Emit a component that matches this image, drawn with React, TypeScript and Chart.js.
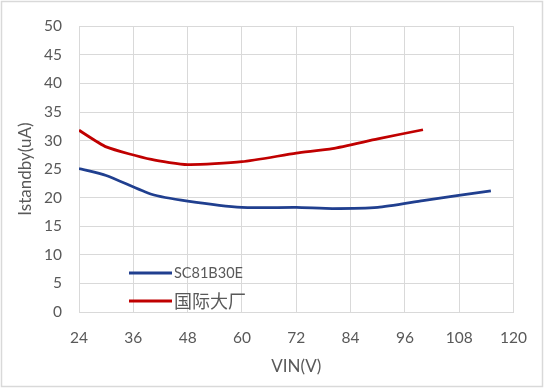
import React, { useEffect, useRef } from "react";
import { Chart, registerables } from "chart.js";

Chart.register(...registerables);

const vinSC81B30E = [24, 30, 40, 48, 60, 72, 80, 90, 100, 115];
const istandbySC81B30E = [25.1, 23.9, 20.6, 19.4, 18.3, 18.3, 18.1, 18.3, 19.5, 21.2];
const vinIntl = [24, 30, 40, 48, 60, 72, 80, 90, 100];
const istandbyIntl = [31.8, 28.9, 26.7, 25.8, 26.3, 27.8, 28.6, 30.3, 31.9];
const seriesNames = ["SC81B30E", "国际大厂"];
const xTitle = "VIN(V)";
const yTitle = "Istandby(uA)";

const FONT = 'Lato, "Noto Sans CJK SC", sans-serif';
const TEXT = "#595959";
const GRID = "#d9d9d9";

const framePlugin = {
  id: "frame",
  beforeDraw(chart: any) {
    const { ctx, width, height } = chart;
    ctx.save();
    ctx.fillStyle = "#ffffff";
    ctx.fillRect(0, 0, width, height);
    ctx.strokeStyle = GRID;
    ctx.lineWidth = 1.5;
    ctx.strokeRect(1.5, 1.5, width - 3, height - 3);
    ctx.restore();
  },
};

const innerLegend = {
  id: "innerLegend",
  afterDatasetsDraw(chart: any) {
    const { ctx, chartArea } = chart;
    const x0 = chartArea.left + 50;
    const y0 = chartArea.bottom - 39;
    ctx.save();
    chart.data.datasets.forEach((ds: any, i: number) => {
      const y = y0 + i * 28;
      ctx.strokeStyle = ds.borderColor;
      ctx.lineWidth = 3;
      ctx.beginPath();
      ctx.moveTo(x0, y);
      ctx.lineTo(x0 + 43, y);
      ctx.stroke();
      const cjk = /[\u4e00-\u9fff]/.test(ds.label);
      ctx.font = cjk ? `18px "Noto Sans CJK SC"` : `14.5px ${FONT}`;
      ctx.fillStyle = TEXT;
      ctx.textBaseline = "middle";
      ctx.textAlign = "left";
      ctx.fillText(ds.label, x0 + 45, y + (cjk ? 0 : 0.5));
    });
    ctx.restore();
  },
};

export default function App() {
  const ref = useRef<HTMLCanvasElement | null>(null);
  useEffect(() => {
    document.body.style.margin = "0";
    if (!ref.current) return;
    const chart = new Chart(ref.current, {
      type: "line",
      data: {
        datasets: [
          {
            label: seriesNames[0],
            data: vinSC81B30E.map((x, i) => ({ x, y: istandbySC81B30E[i] })),
            borderColor: "#203f8f",
            borderWidth: 2.75,
            pointRadius: 0,
            tension: 0.2,
          },
          {
            label: seriesNames[1],
            data: vinIntl.map((x, i) => ({ x, y: istandbyIntl[i] })),
            borderColor: "#c00000",
            borderWidth: 2.75,
            pointRadius: 0,
            tension: 0.2,
          },
        ],
      },
      options: {
        animation: false,
        responsive: false,
        layout: { padding: { top: 18, right: 28, bottom: 0, left: 0 } },
        plugins: { legend: { display: false }, tooltip: { enabled: false } },
        scales: {
          x: {
            type: "linear",
            min: 24,
            max: 120,
            afterFit: (s: any) => { s.height = 76; },
            ticks: { stepSize: 12, color: TEXT, font: { family: FONT, size: 15.5 }, padding: 17, maxRotation: 0 },
            grid: { color: GRID, lineWidth: 1, drawTicks: false },
            border: { color: GRID, width: 1 },
            title: { display: true, text: xTitle, color: TEXT, font: { family: FONT, size: 17 }, padding: { top: 0, bottom: 11 } },
          },
          y: {
            min: 0,
            max: 50,
            afterFit: (s: any) => { s.width = 79; },
            ticks: { stepSize: 5, color: TEXT, font: { family: FONT, size: 15.5 }, padding: 17 },
            grid: { color: GRID, lineWidth: 1, drawTicks: false },
            border: { color: GRID, width: 1 },
            title: { display: true, text: yTitle, color: TEXT, font: { family: FONT, size: 17 }, padding: { top: 15, bottom: 0 } },
          },
        },
      },
      plugins: [framePlugin, innerLegend],
    } as any);
    return () => chart.destroy();
  }, []);
  return (
    <div style={{ width: 544, height: 388 }}>
      <canvas ref={ref} width={544} height={388} style={{ display: "block" }} />
    </div>
  );
}
